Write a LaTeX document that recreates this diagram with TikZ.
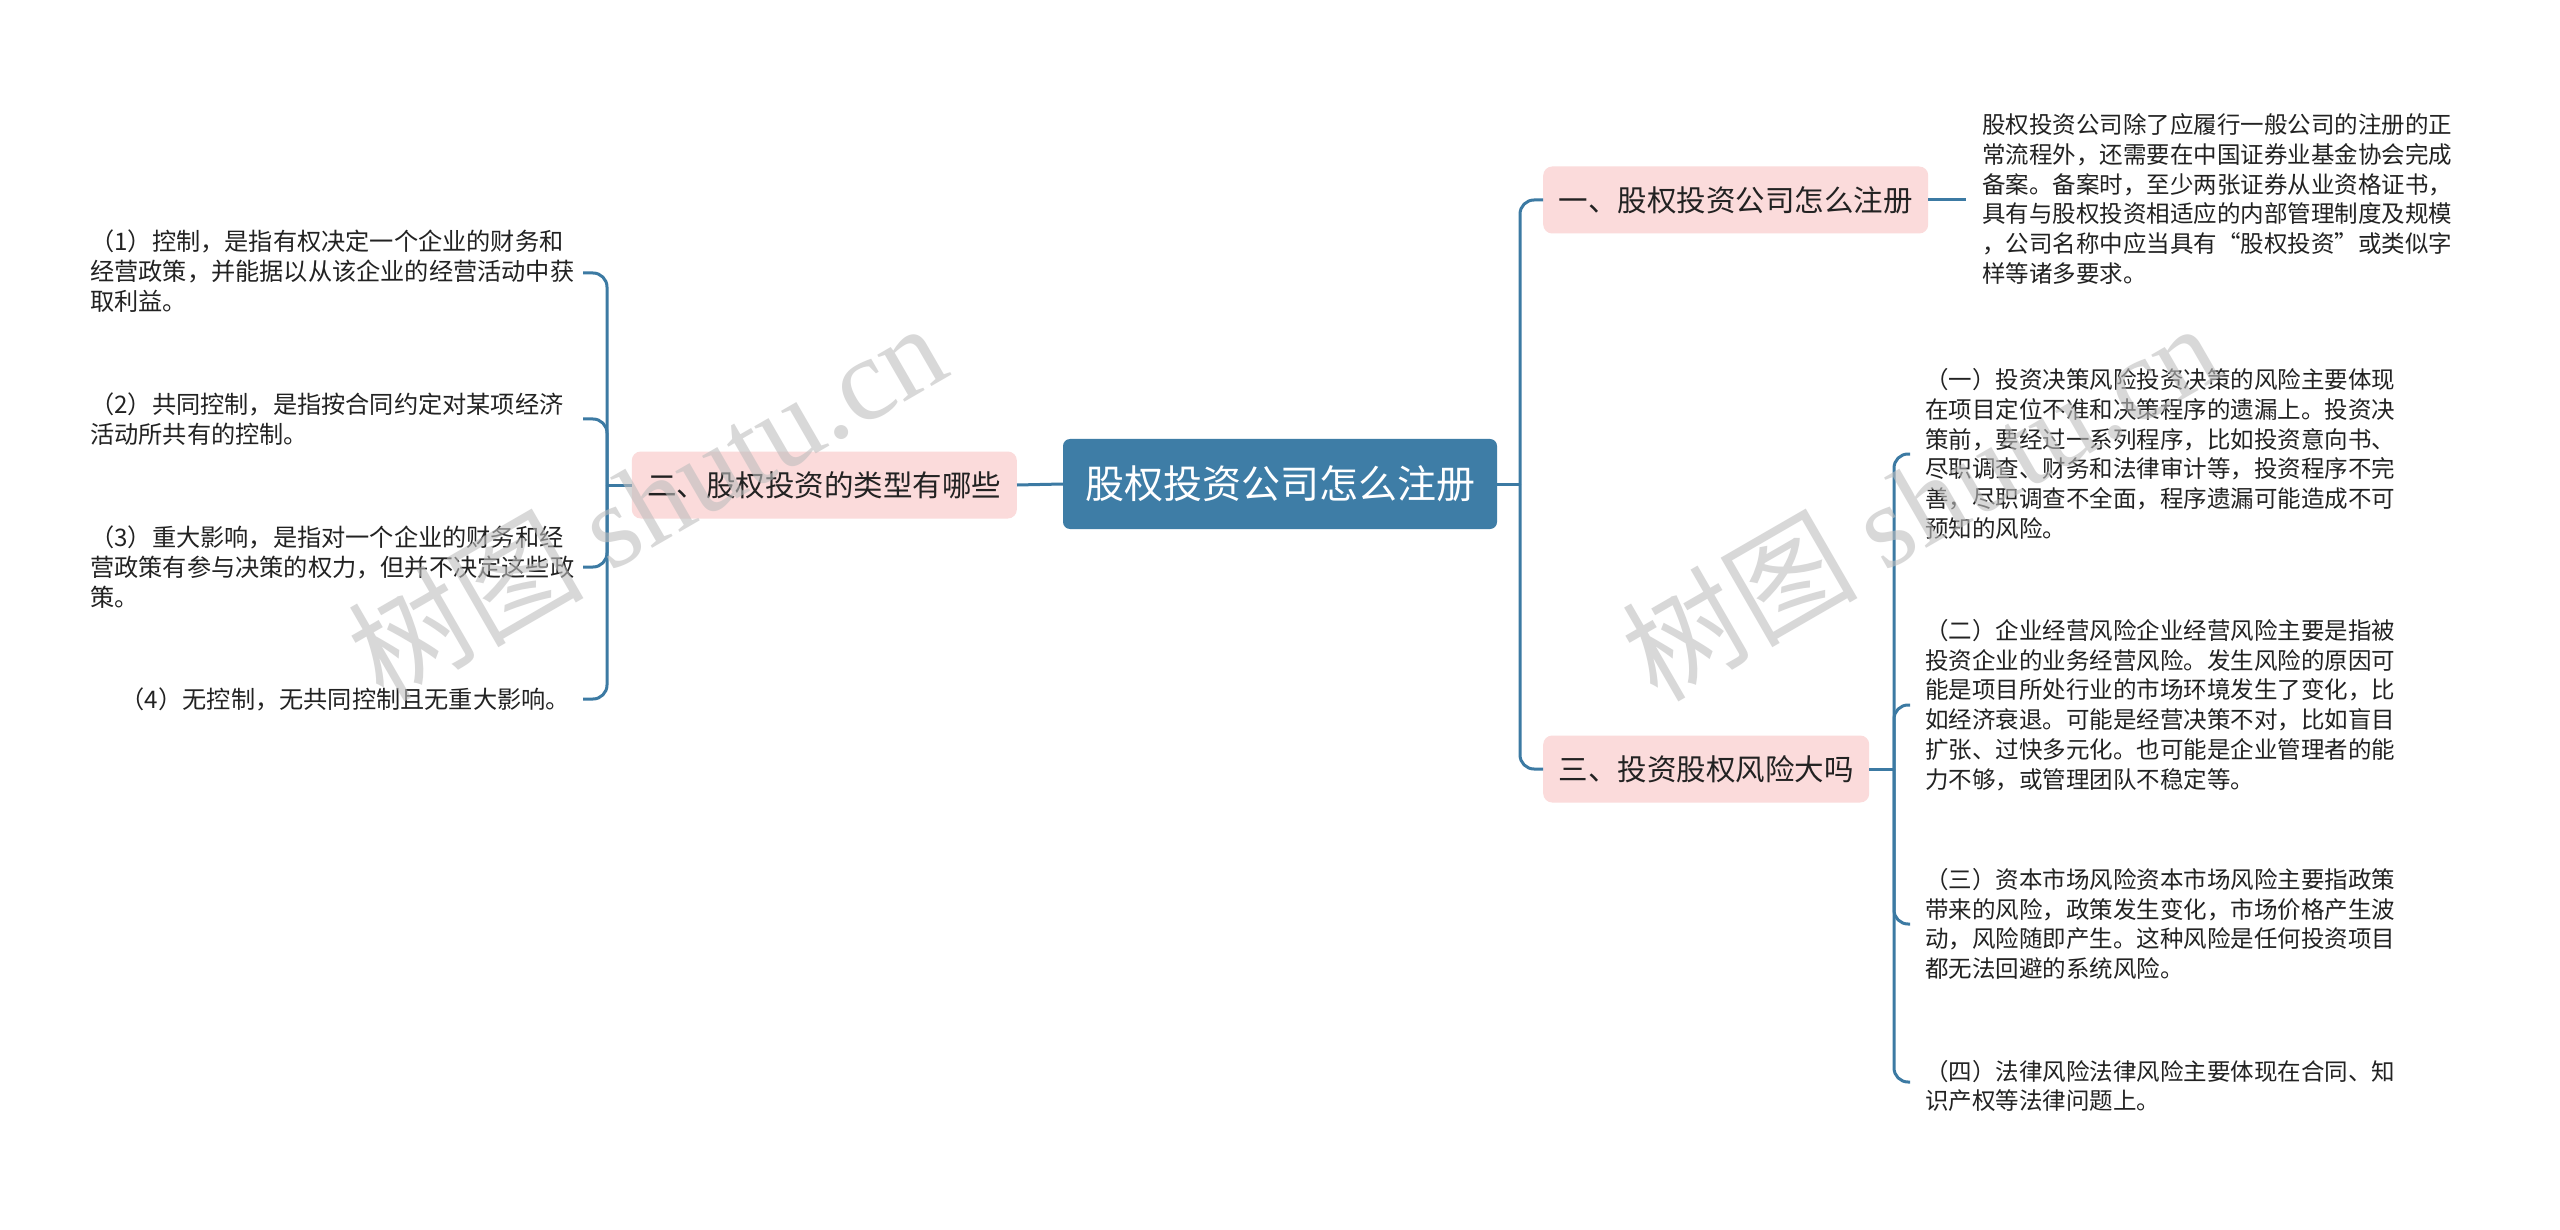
\documentclass[tikz,border=0pt]{standalone}
\usepackage{fontspec}
\setmainfont{Noto Sans CJK SC}
\newfontfamily\wmlatin{Liberation Serif}
\definecolor{rootblue}{RGB}{62,125,166}
\definecolor{lineblue}{RGB}{60,122,163}
\definecolor{pinkbg}{RGB}{251,219,219}
\definecolor{txt}{RGB}{34,34,34}
\definecolor{wmgray}{RGB}{190,190,190}
\tikzset{
  rootbox/.style={fill=rootblue, rounded corners=7pt, text=white, font=\fontsize{39}{46}\selectfont, minimum width=434pt, minimum height=90pt, inner sep=0pt},
  topicbox/.style={fill=pinkbg, rounded corners=9pt, text=txt, font=\fontsize{29.5}{35}\selectfont, minimum height=67pt, inner xsep=15.5pt, inner ysep=0pt},
  leaf/.style={font=\fontsize{23.5}{29.7}\selectfont, align=left, inner sep=0pt, text=txt},
  leftleaf/.style={leaf, font=\fontsize{24.2}{29.7}\selectfont},
  conn/.style={draw=lineblue, line width=3pt, rounded corners=14pt},
  wm/.style={text=wmgray, opacity=0.6, font=\fontsize{118}{130}\selectfont, inner sep=0pt}
}
\begin{document}
\begin{tikzpicture}[x=1pt,y=-1pt]
\useasboundingbox[fill=white] (0,0) rectangle (2560,1230);

% main nodes
\node[rootbox] (root) at (1280,484) {股权投资公司怎么注册};
\node[topicbox, anchor=east] (t2) at (1017,485) {二、股权投资的类型有哪些};
\node[topicbox, anchor=west] (t1) at (1543,200) {一、股权投资公司怎么注册};
\node[topicbox, anchor=west] (t3) at (1543,769) {三、投资股权风险大吗};

% junctions
\coordinate (rj) at (1520,484);
\coordinate (lj) at (607,485);
\coordinate (rj3) at (1894,769);
\coordinate (t1e) at (1966,200);

\coordinate (l1c) at (583,273);
\coordinate (l2c) at (583,419);
\coordinate (l3c) at (583,567);
\coordinate (l4c) at (583,699);

\coordinate (r1c) at (1910,454);
\coordinate (r2c) at (1910,705);
\coordinate (r3c) at (1910,924);
\coordinate (r4c) at (1910,1082);

% leaves
\node[leaf, anchor=west] (d1) at (1982,199) {股权投资公司除了应履行一般公司的注册的正\\常流程外，还需要在中国证券业基金协会完成\\备案。备案时，至少两张证券从业资格证书，\\具有与股权投资相适应的内部管理制度及规模\\，公司名称中应当具有“股权投资”或类似字\\样等诸多要求。};

\node[leftleaf, anchor=west] (l1) at (90,271) {（1）控制，是指有权决定一个企业的财务和\\经营政策，并能据以从该企业的经营活动中获\\取利益。};
\node[leftleaf, anchor=west] (l2) at (90,419) {（2）共同控制，是指按合同约定对某项经济\\活动所共有的控制。};
\node[leftleaf, anchor=west] (l3) at (90,567) {（3）重大影响，是指对一个企业的财务和经\\营政策有参与决策的权力，但并不决定这些政\\策。};
\node[leftleaf, anchor=east] (l4) at (570,699) {（4）无控制，无共同控制且无重大影响。};

\node[leaf, anchor=west] (r1) at (1925,454) {（一）投资决策风险投资决策的风险主要体现\\在项目定位不准和决策程序的遗漏上。投资决\\策前，要经过一系列程序，比如投资意向书、\\尽职调查、财务和法律审计等，投资程序不完\\善，尽职调查不全面，程序遗漏可能造成不可\\预知的风险。};
\node[leaf, anchor=west] (r2) at (1925,705) {（二）企业经营风险企业经营风险主要是指被\\投资企业的业务经营风险。发生风险的原因可\\能是项目所处行业的市场环境发生了变化，比\\如经济衰退。可能是经营决策不对，比如盲目\\扩张、过快多元化。也可能是企业管理者的能\\力不够，或管理团队不稳定等。};
\node[leaf, anchor=west] (r3) at (1925,924) {（三）资本市场风险资本市场风险主要指政策\\带来的风险，政策发生变化，市场价格产生波\\动，风险随即产生。这种风险是任何投资项目\\都无法回避的系统风险。};
\node[leaf, anchor=west] (r4) at (1925,1086) {（四）法律风险法律风险主要体现在合同、知\\识产权等法律问题上。};

% connectors
\draw[conn] (root.west) -- (t2.east);
\draw[conn] (root.east) -- (rj);
\draw[conn] (t1.west) -- (t1.west -| rj) -- (rj);
\draw[conn] (t3.west) -- (t3.west -| rj) -- (rj);
\draw[conn] (t1.east) -- (t1e);

\draw[conn] (t2.west) -- (lj);
\draw[conn] (l1c) -- (l1c -| lj) -- (lj);
\draw[conn] (l2c) -- (l2c -| lj) -- (lj);
\draw[conn] (l3c) -- (l3c -| lj) -- (lj);
\draw[conn] (l4c) -- (l4c -| lj) -- (lj);

\draw[conn] (t3.east) -- (rj3);
\draw[conn] (r1c) -- (r1c -| rj3) -- (rj3);
\draw[conn] (r2c) -- (r2c -| rj3) -- (rj3);
\draw[conn] (r3c) -- (r3c -| rj3) -- (rj3);
\draw[conn] (r4c) -- (r4c -| rj3) -- (rj3);

% watermarks
\node[wm, rotate=30] (wm1) at (646,500) {树图 {\wmlatin shutu.cn}};
\node[wm, rotate=30] (wm2) at (1920,500) {树图 {\wmlatin shutu.cn}};
\end{tikzpicture}
\end{document}
